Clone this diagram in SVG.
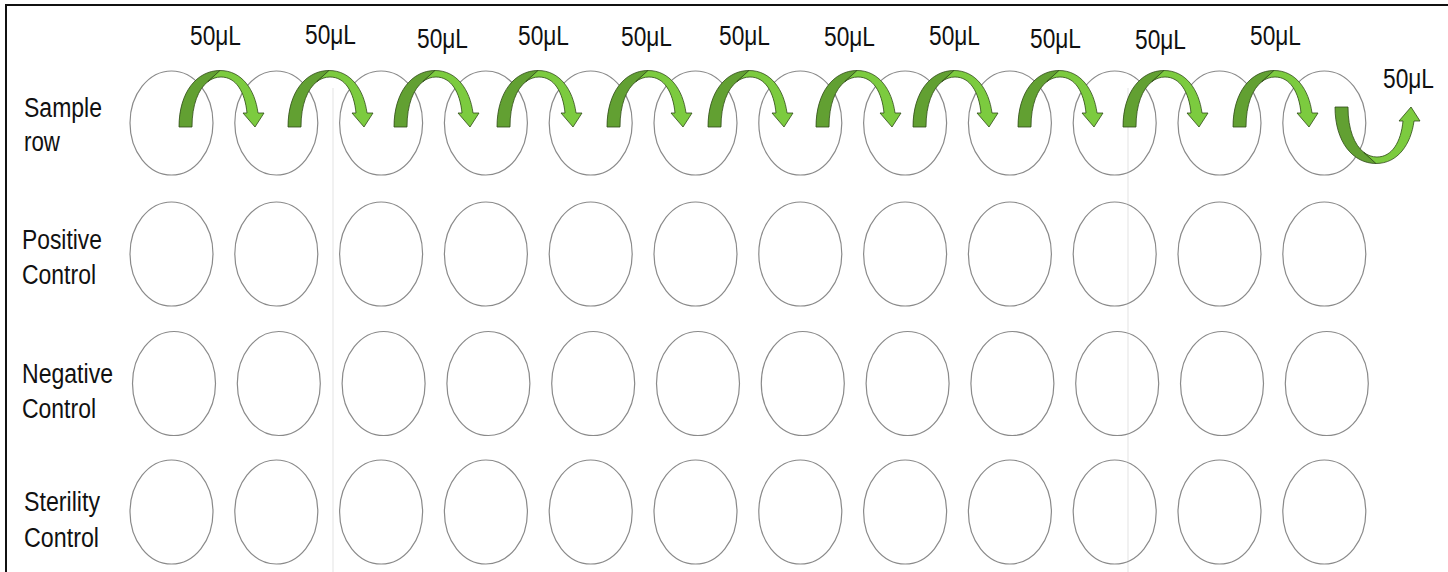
<svg xmlns="http://www.w3.org/2000/svg" xmlns:xlink="http://www.w3.org/1999/xlink" width="1448" height="572" viewBox="0 0 1448 572">
<style>
.well{fill:none;stroke:#8a8a8a;stroke-width:1.2}
.lbl{font-family:"Liberation Sans",Arial,sans-serif;font-size:27px;fill:#111}
.dk{fill:#62a032;stroke:#2e4a17;stroke-width:0.8;stroke-linejoin:round}
.lt{fill:#7ccb3f;stroke:#2e4a17;stroke-width:0.8;stroke-linejoin:round}
.wm{fill:none;stroke:#f1f1f1;stroke-width:2}
</style>
<defs>
<g id="arrow">
<path class="dk" d="M0,0 C0,-35 18,-56.5 41,-56.5 L28.7,-45.25 C19.4,-37.9 13,-22.4 13,0 Z"/>
<path class="lt" d="M41,-56.5 C63,-56.5 76,-37 79,-14 L85,-14 L76,0 L64,-14 L68,-14 C66,-35 57,-50 42,-50 C37.2,-50 32.7,-48.4 28.7,-45.25 Z"/>
</g>
</defs>
<rect x="0" y="0" width="1448" height="572" fill="#fff"/>
<g id="watermark">
<line class="wm" x1="333" y1="88" x2="333" y2="572"/>
<line class="wm" x1="1128" y1="88" x2="1128" y2="572"/>
</g>
<rect x="6" y="5" width="1460" height="590" fill="none" stroke="#111" stroke-width="2"/>

<g id="row-sample">
<g id="lbl-sample"><text class="lbl" x="24" y="117" textLength="78" lengthAdjust="spacingAndGlyphs">Sample</text><text class="lbl" x="24" y="151" textLength="36" lengthAdjust="spacingAndGlyphs">row</text></g>
<g id="s1"><ellipse class="well" cx="171.5" cy="123" rx="41.5" ry="52"/></g>
<g id="s2"><ellipse class="well" cx="276.3" cy="123" rx="41.5" ry="52"/></g>
<g id="s3"><ellipse class="well" cx="381.1" cy="123" rx="41.5" ry="52"/></g>
<g id="s4"><ellipse class="well" cx="485.9" cy="123" rx="41.5" ry="52"/></g>
<g id="s5"><ellipse class="well" cx="590.7" cy="123" rx="41.5" ry="52"/></g>
<g id="s6"><ellipse class="well" cx="695.5" cy="123" rx="41.5" ry="52"/></g>
<g id="s7"><ellipse class="well" cx="800.3" cy="123" rx="41.5" ry="52"/></g>
<g id="s8"><ellipse class="well" cx="905.1" cy="123" rx="41.5" ry="52"/></g>
<g id="s9"><ellipse class="well" cx="1009.9" cy="123" rx="41.5" ry="52"/></g>
<g id="s10"><ellipse class="well" cx="1114.7" cy="123" rx="41.5" ry="52"/></g>
<g id="s11"><ellipse class="well" cx="1219.5" cy="123" rx="41.5" ry="52"/></g>
<g id="s12"><ellipse class="well" cx="1324.3" cy="123" rx="41.5" ry="52"/></g>
</g>

<g id="row-positive">
<g id="lbl-positive"><text class="lbl" x="22" y="249" textLength="80" lengthAdjust="spacingAndGlyphs">Positive</text><text class="lbl" x="22" y="284" textLength="74" lengthAdjust="spacingAndGlyphs">Control</text></g>
<g id="p1"><ellipse class="well" cx="171.5" cy="254" rx="41.5" ry="52"/></g>
<g id="p2"><ellipse class="well" cx="276.3" cy="254" rx="41.5" ry="52"/></g>
<g id="p3"><ellipse class="well" cx="381.1" cy="254" rx="41.5" ry="52"/></g>
<g id="p4"><ellipse class="well" cx="485.9" cy="254" rx="41.5" ry="52"/></g>
<g id="p5"><ellipse class="well" cx="590.7" cy="254" rx="41.5" ry="52"/></g>
<g id="p6"><ellipse class="well" cx="695.5" cy="254" rx="41.5" ry="52"/></g>
<g id="p7"><ellipse class="well" cx="800.3" cy="254" rx="41.5" ry="52"/></g>
<g id="p8"><ellipse class="well" cx="905.1" cy="254" rx="41.5" ry="52"/></g>
<g id="p9"><ellipse class="well" cx="1009.9" cy="254" rx="41.5" ry="52"/></g>
<g id="p10"><ellipse class="well" cx="1114.7" cy="254" rx="41.5" ry="52"/></g>
<g id="p11"><ellipse class="well" cx="1219.5" cy="254" rx="41.5" ry="52"/></g>
<g id="p12"><ellipse class="well" cx="1324.3" cy="254" rx="41.5" ry="52"/></g>
</g>

<g id="row-negative">
<g id="lbl-negative"><text class="lbl" x="22" y="383" textLength="91" lengthAdjust="spacingAndGlyphs">Negative</text><text class="lbl" x="22" y="418" textLength="74" lengthAdjust="spacingAndGlyphs">Control</text></g>
<g id="n1"><ellipse class="well" cx="174" cy="383.5" rx="41.5" ry="52"/></g>
<g id="n2"><ellipse class="well" cx="278.8" cy="383.5" rx="41.5" ry="52"/></g>
<g id="n3"><ellipse class="well" cx="383.6" cy="383.5" rx="41.5" ry="52"/></g>
<g id="n4"><ellipse class="well" cx="488.4" cy="383.5" rx="41.5" ry="52"/></g>
<g id="n5"><ellipse class="well" cx="593.2" cy="383.5" rx="41.5" ry="52"/></g>
<g id="n6"><ellipse class="well" cx="698" cy="383.5" rx="41.5" ry="52"/></g>
<g id="n7"><ellipse class="well" cx="802.8" cy="383.5" rx="41.5" ry="52"/></g>
<g id="n8"><ellipse class="well" cx="907.6" cy="383.5" rx="41.5" ry="52"/></g>
<g id="n9"><ellipse class="well" cx="1012.4" cy="383.5" rx="41.5" ry="52"/></g>
<g id="n10"><ellipse class="well" cx="1117.2" cy="383.5" rx="41.5" ry="52"/></g>
<g id="n11"><ellipse class="well" cx="1222" cy="383.5" rx="41.5" ry="52"/></g>
<g id="n12"><ellipse class="well" cx="1326.8" cy="383.5" rx="41.5" ry="52"/></g>
</g>

<g id="row-sterility">
<g id="lbl-sterility"><text class="lbl" x="24" y="511" textLength="76" lengthAdjust="spacingAndGlyphs">Sterility</text><text class="lbl" x="24" y="547" textLength="75" lengthAdjust="spacingAndGlyphs">Control</text></g>
<g id="t1"><ellipse class="well" cx="171.5" cy="512" rx="41.5" ry="52"/></g>
<g id="t2"><ellipse class="well" cx="276.3" cy="512" rx="41.5" ry="52"/></g>
<g id="t3"><ellipse class="well" cx="381.1" cy="512" rx="41.5" ry="52"/></g>
<g id="t4"><ellipse class="well" cx="485.9" cy="512" rx="41.5" ry="52"/></g>
<g id="t5"><ellipse class="well" cx="590.7" cy="512" rx="41.5" ry="52"/></g>
<g id="t6"><ellipse class="well" cx="695.5" cy="512" rx="41.5" ry="52"/></g>
<g id="t7"><ellipse class="well" cx="800.3" cy="512" rx="41.5" ry="52"/></g>
<g id="t8"><ellipse class="well" cx="905.1" cy="512" rx="41.5" ry="52"/></g>
<g id="t9"><ellipse class="well" cx="1009.9" cy="512" rx="41.5" ry="52"/></g>
<g id="t10"><ellipse class="well" cx="1114.7" cy="512" rx="41.5" ry="52"/></g>
<g id="t11"><ellipse class="well" cx="1219.5" cy="512" rx="41.5" ry="52"/></g>
<g id="t12"><ellipse class="well" cx="1324.3" cy="512" rx="41.5" ry="52"/></g>
</g>

<g id="connectors">
<use xlink:href="#arrow" href="#arrow" transform="translate(179,127)"/>
<use xlink:href="#arrow" href="#arrow" transform="translate(288,127)"/>
<use xlink:href="#arrow" href="#arrow" transform="translate(394,127)"/>
<use xlink:href="#arrow" href="#arrow" transform="translate(497,127)"/>
<use xlink:href="#arrow" href="#arrow" transform="translate(607,127)"/>
<use xlink:href="#arrow" href="#arrow" transform="translate(708,127)"/>
<use xlink:href="#arrow" href="#arrow" transform="translate(816,127)"/>
<use xlink:href="#arrow" href="#arrow" transform="translate(913,127)"/>
<use xlink:href="#arrow" href="#arrow" transform="translate(1018,127)"/>
<use xlink:href="#arrow" href="#arrow" transform="translate(1123,127)"/>
<use xlink:href="#arrow" href="#arrow" transform="translate(1233,127)"/>
<use xlink:href="#arrow" href="#arrow" transform="translate(1335,107) scale(1,-1)"/>
</g>

<g id="volume-labels">
<text class="lbl" x="190" y="45" textLength="51" lengthAdjust="spacingAndGlyphs">50μL</text>
<text class="lbl" x="305" y="44" textLength="51" lengthAdjust="spacingAndGlyphs">50μL</text>
<text class="lbl" x="417" y="48" textLength="51" lengthAdjust="spacingAndGlyphs">50μL</text>
<text class="lbl" x="518" y="45" textLength="51" lengthAdjust="spacingAndGlyphs">50μL</text>
<text class="lbl" x="621" y="46" textLength="51" lengthAdjust="spacingAndGlyphs">50μL</text>
<text class="lbl" x="719" y="45" textLength="51" lengthAdjust="spacingAndGlyphs">50μL</text>
<text class="lbl" x="824" y="46" textLength="51" lengthAdjust="spacingAndGlyphs">50μL</text>
<text class="lbl" x="929" y="45" textLength="51" lengthAdjust="spacingAndGlyphs">50μL</text>
<text class="lbl" x="1030" y="47.5" textLength="51" lengthAdjust="spacingAndGlyphs">50μL</text>
<text class="lbl" x="1135" y="49" textLength="51" lengthAdjust="spacingAndGlyphs">50μL</text>
<text class="lbl" x="1250" y="45" textLength="51" lengthAdjust="spacingAndGlyphs">50μL</text>
<text class="lbl" x="1383" y="88" textLength="51" lengthAdjust="spacingAndGlyphs">50μL</text>
</g>
</svg>
